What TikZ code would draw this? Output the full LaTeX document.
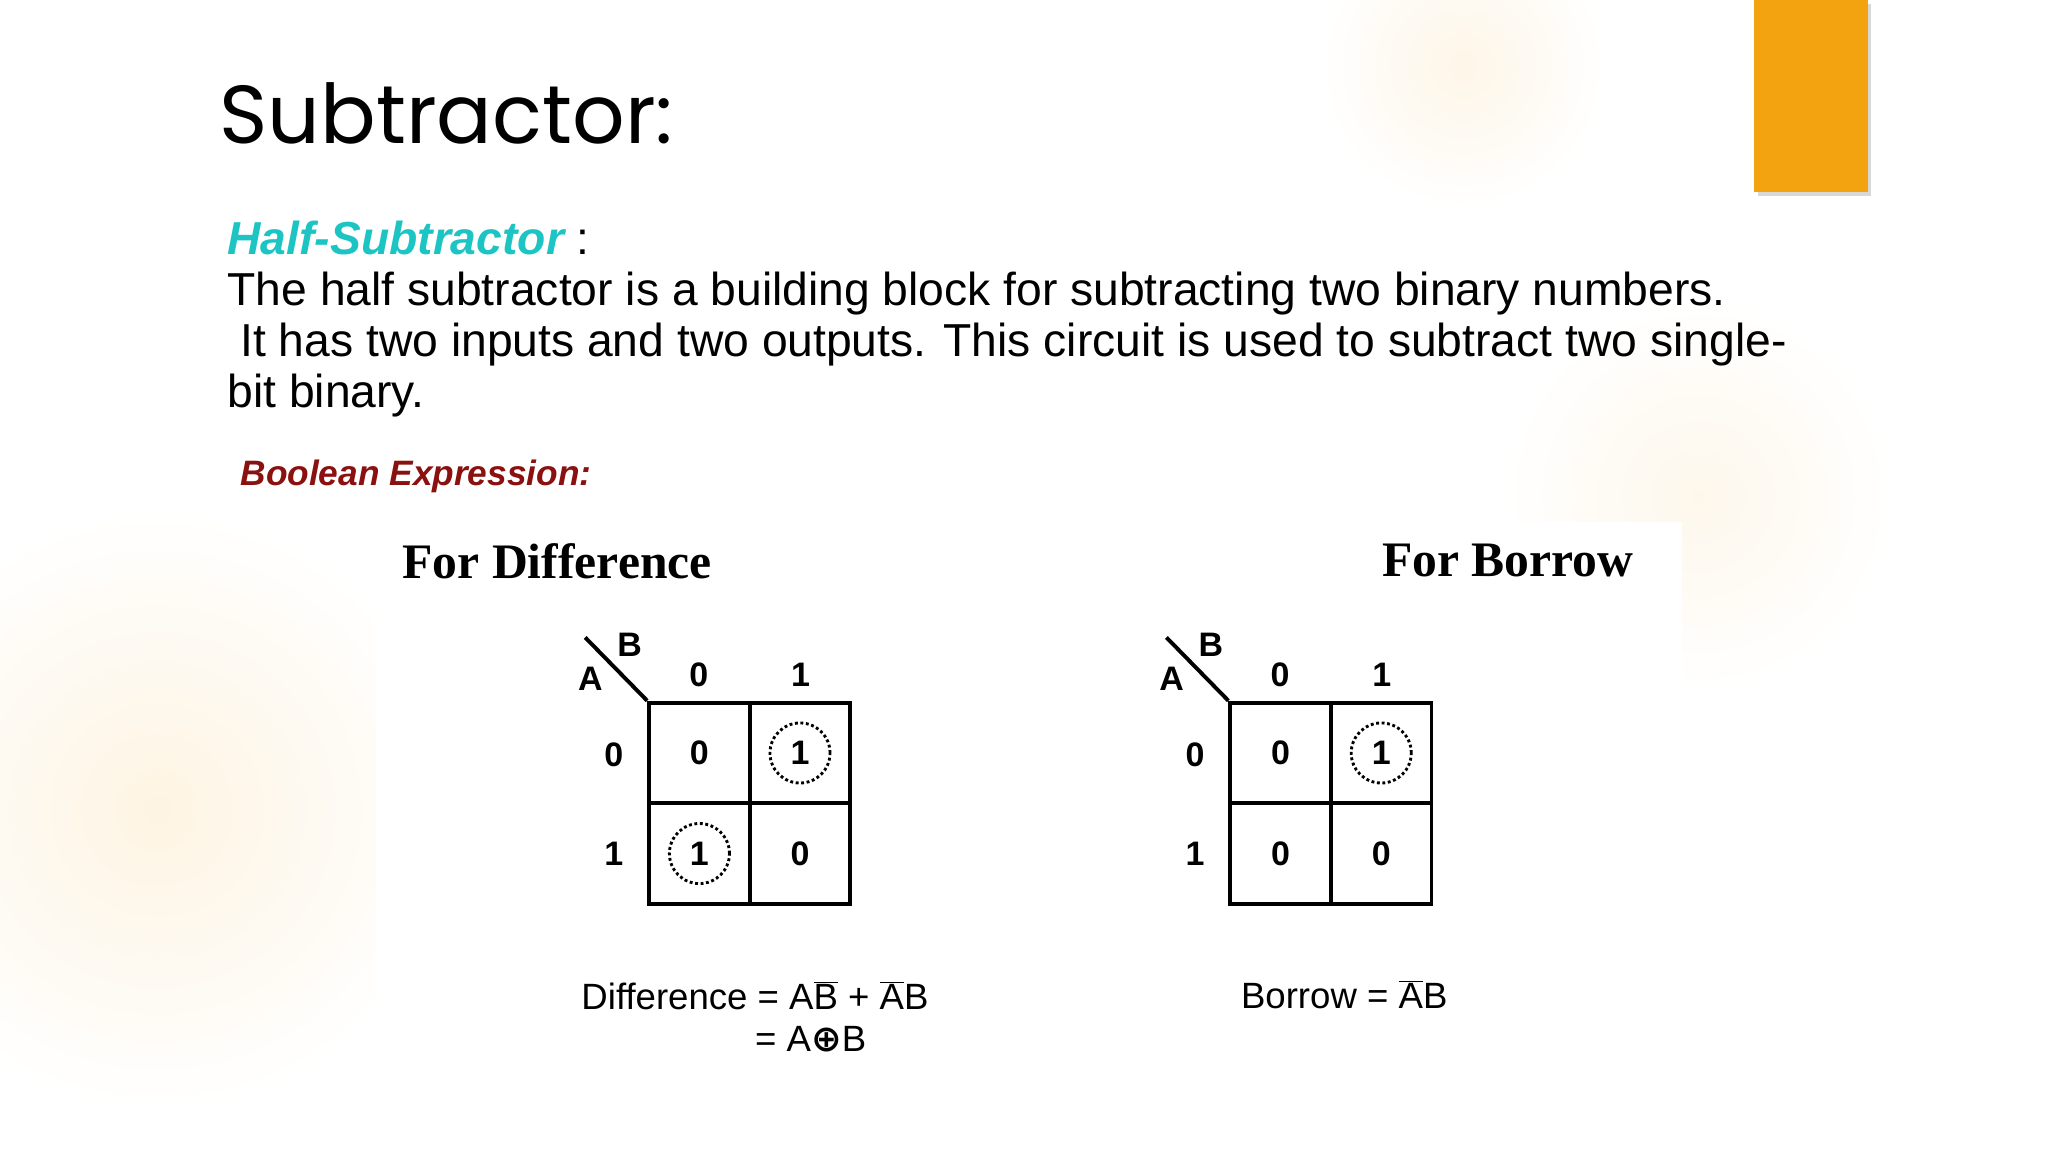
\documentclass[tikz,border=0pt]{standalone}
\usepackage{fontspec}
\setmainfont{Liberation Sans}
\newfontfamily\titlefont{Poppins}
\newfontfamily\serifb{Liberation Serif}
\newfontfamily\dejavu{DejaVu Sans}
\usetikzlibrary{shadows}
\definecolor{orng}{HTML}{F2A30F}
\definecolor{cyanh}{HTML}{1CC4C4}
\definecolor{dred}{HTML}{8B1010}
\tikzset{
  lbl/.style={font=\fontsize{26}{26}\selectfont\bfseries, inner sep=0pt},
  cellbox/.style={draw, line width=3pt, minimum size=77pt, inner sep=0pt, font=\fontsize{26}{26}\selectfont\bfseries},
  dcirc/.style={draw, dotted, line width=2.2pt, circle, minimum size=46pt},
  para/.style={anchor=base west, inner sep=0pt, font=\fontsize{35.4}{35.4}\selectfont},
  expr/.style={anchor=base west, inner sep=0pt, font=\fontsize{28}{28}\selectfont},
}
\begin{document}
\begin{tikzpicture}[x=1pt,y=-1pt]
\useasboundingbox (0,0) rectangle (1568,882);
\fill[white] (0,0) rectangle (1568,882);
\shade[inner color=orng!12, outer color=white] (120,620) circle (230);
\shade[inner color=orng!10, outer color=white] (1120,50) circle (110);
\shade[inner color=orng!8, outer color=white] (1300,380) circle (150);
\fill[white] (288,400) rectangle (1288,882);
\node[fill=orng, minimum width=87pt, minimum height=147pt, anchor=north west, inner sep=0pt, drop shadow={opacity=0.3}] (bar) at (1343,0) {};
\node[anchor=base west, inner sep=0pt, font=\titlefont\fontsize{63}{63}\selectfont] (title) at (168,110) {Subtractor:};
\node[para, anchor=base west] (hs) at (174,195) {\textcolor{cyanh}{\bfseries\itshape Half-Subtractor} :};
\node[para] (p1) at (174,234) {The half subtractor is a building block for subtracting two binary numbers.};
\node[para] (p2) at (174,273) {\ It has two inputs and two outputs. This circuit is used to subtract two single-};
\node[para] (p3) at (174,312) {bit binary.};
\node[anchor=base west, inner sep=0pt, font=\fontsize{27}{27}\selectfont\bfseries\itshape, text=dred] (be) at (184,372) {Boolean Expression:};
\node[anchor=base west, inner sep=0pt, font=\serifb\fontsize{38}{38}\selectfont\bfseries] (fd) at (308,443) {For Difference};
\node[anchor=base west, inner sep=0pt, font=\serifb\fontsize{38}{38}\selectfont\bfseries] (fb) at (1058,441) {For Borrow};
% K-map 1
\node[cellbox] (a00) at (535.5,576.5) {0};
\node[cellbox] (a01) at (612.5,576.5) {1};
\node[cellbox] (a10) at (535.5,653.5) {1};
\node[cellbox] (a11) at (612.5,653.5) {0};
\node[dcirc] (c1) at (a01) {};
\node[dcirc] (c2) at (a10) {};
\coordinate (d1) at (448,488);
\draw[line width=3pt] (d1) -- (a00.north west);
\node[lbl] (b1) at (482,494) {B};
\node[lbl] (al1) at (452,520) {A};
\node[lbl] (cb0) at (535,517) {0};
\node[lbl] (cb1) at (613,517) {1};
\node[lbl] (ra0) at (470,578) {0};
\node[lbl] (ra1) at (470,654) {1};
% K-map 2
\node[cellbox] (b00) at (980.5,576.5) {0};
\node[cellbox] (b01) at (1057.5,576.5) {1};
\node[cellbox] (b10) at (980.5,653.5) {0};
\node[cellbox] (b11) at (1057.5,653.5) {0};
\node[dcirc] (c3) at (b01) {};
\coordinate (d2) at (893,488);
\draw[line width=3pt] (d2) -- (b00.north west);
\node[lbl] (b2) at (927,494) {B};
\node[lbl] (al2) at (897,520) {A};
\node[lbl] (db0) at (980,517) {0};
\node[lbl] (db1) at (1058,517) {1};
\node[lbl] (sa0) at (915,578) {0};
\node[lbl] (sa1) at (915,654) {1};
% expressions
\node[expr] (ex1) at (445,773) {Difference = A$\overline{\hbox{B}}$ + $\overline{\hbox{A}}$B};
\node[expr] (ex2) at (578,805) {= A{\dejavu\bfseries ⊕}B};
\node[expr] (ex3) at (950,772) {Borrow = $\overline{\hbox{A}}$B};
\end{tikzpicture}
\end{document}
